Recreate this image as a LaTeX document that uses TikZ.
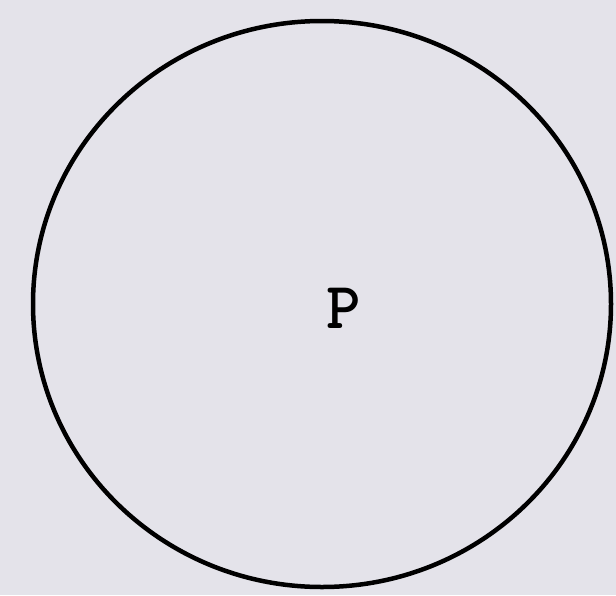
\documentclass[tikz,border=0pt]{standalone}
\usepackage{xcolor}
\definecolor{paper}{HTML}{E4E3EA}
\usetikzlibrary{shapes.geometric}

\begin{document}
\begin{tikzpicture}[
  x=1pt, y=-1pt,
  ring/.style={ellipse, draw=black, line width=4.5pt, minimum width=578pt, minimum height=566pt, inner sep=0pt},
  lbl/.style={font=\fontsize{66}{66}\selectfont\ttfamily\bfseries},
]
  \fill[paper] (0,0) rectangle (616,595);
  \useasboundingbox (0,0) rectangle (616,595);
  \node[ring] (circle) at (322,304) {};
  \node[lbl] (p) at (344,308) {P};
\end{tikzpicture}
\end{document}
